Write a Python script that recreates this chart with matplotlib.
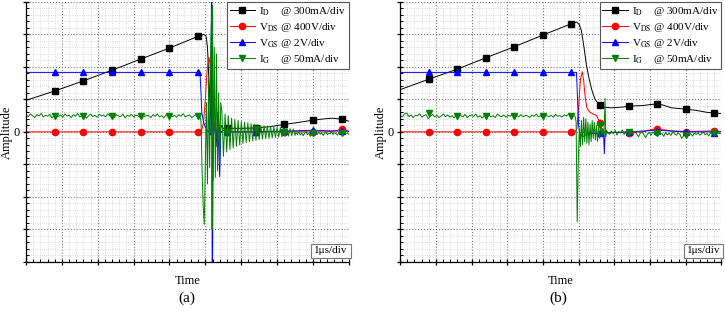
import numpy as np
import matplotlib.pyplot as plt
from matplotlib.ticker import MultipleLocator

plt.rcParams['font.family'] = ['Liberation Serif', 'DejaVu Serif']
plt.rcParams['mathtext.fontset'] = 'stix'

# time axis in divisions (1 us/div), amplitude in divisions
marker_x = [0.8, 1.6, 2.4, 3.2, 4.0, 4.8, 5.6, 6.4, 7.2, 8.0, 8.8]

labels = ['I$_{\\rm D}$    @ 300mA/div',
          'V$_{\\rm DS}$ @ 400V/div',
          'V$_{\\rm GS}$ @ 2V/div',
          'I$_{\\rm G}$    @ 50mA/div']
colors = ['#000000', '#ff0000', '#0000ff', '#008000']
markers = ['s', 'o', '^', 'v']

# ---------------- panel (a) ----------------
id_a_x = [0, 0.8, 1.6, 2.4, 3.2, 4.0, 4.8, 4.95, 5.02, 5.06, 5.1, 5.15, 5.2, 5.25,
          5.3, 5.35, 5.4, 5.45, 5.5, 5.6, 5.8, 6.0, 6.4, 6.8, 7.2, 7.6, 8.0, 8.4,
          8.55, 8.8, 9.0]
id_a_y = [0.97, 1.26, 1.57, 1.9, 2.24, 2.58, 2.94, 3.0, 2.95, 2.6, 1.6, 0.5, 0.2, 0.95,
          -0.45, 0.6, -0.1, 0.2, 0.1, 0.12, 0.11, 0.11, 0.12, 0.16, 0.23, 0.29, 0.36, 0.41,
          0.42, 0.39, 0.33]
id_a_my = [1.26, 1.57, 1.9, 2.24, 2.58, 2.94, 0.12, 0.12, 0.23, 0.36, 0.39]

vds_a_x = [0, 4.85, 4.9, 4.95, 5.0, 5.05, 5.1, 5.13, 5.16, 5.2, 5.25, 5.3, 5.35, 5.4,
           5.5, 5.6, 6.4, 7.2, 8.0, 8.4, 8.6, 8.8, 9.0]
vds_a_y = [0, 0, 0.05, 0.3, 1.0, 1.9, 2.3, 2.1, 0.8, -0.3, 0.3, -0.2, 0.15, -0.05,
           0.05, 0.0, 0.0, 0.01, 0.0, 0.0, 0.03, 0.08, 0.02]
vds_a_my = [0, 0, 0, 0, 0, 0, 0, 0, 0.01, 0, 0.08]

vgs_a_x = [0, 4.85, 4.88, 4.9, 4.95, 5.0, 5.05, 5.1, 5.15, 5.17, 5.18, 5.19, 5.2,
           5.22, 5.3, 5.35, 5.4, 5.43, 5.5, 5.6, 6.4, 7.2, 8.0, 8.8, 9.0]
vgs_a_y = [1.83, 1.83, 1.2, 0.6, 0.3, 0.15, 0.05, 0.0, -0.1, 4.0, 4.0, -4.0, -4.0,
           0.3, -0.2, 0.2, -1.38, 0.0, 0.05, 0.0, 0.0, 0.02, 0.05, 0.02, 0.02]
vgs_a_my = [1.83, 1.83, 1.83, 1.83, 1.83, 1.83, 0.0, 0.0, 0.02, 0.05, 0.02]

ig_a_pre = [0.52, 0.47, 0.55, 0.50, 0.44, 0.53, 0.49, 0.57, 0.46, 0.51,
            0.48, 0.54, 0.43, 0.50, 0.56, 0.47, 0.52, 0.45, 0.55, 0.49,
            0.51, 0.44, 0.53, 0.48, 0.57, 0.46, 0.50, 0.53, 0.42, 0.49,
            0.55, 0.47, 0.51, 0.45, 0.54, 0.49, 0.52, 0.46, 0.56, 0.48,
            0.50, 0.44, 0.53, 0.49, 0.47, 0.55, 0.43, 0.51, 0.48, 0.54,
            0.46, 0.52, 0.49, 0.45, 0.56, 0.47, 0.51, 0.50, 0.44, 0.53,
            0.48, 0.55, 0.46, 0.50, 0.43, 0.52, 0.49, 0.54, 0.47, 0.51,
            0.45, 0.53, 0.48, 0.56, 0.46, 0.50, 0.52, 0.44, 0.49, 0.53,
            0.47]
ig_a_sw_x = [4.85, 4.88, 4.91, 4.94, 4.97, 5.0, 5.03, 5.06, 5.09, 5.12, 5.15, 5.18,
             5.19, 5.2, 5.22, 5.25, 5.28, 5.31, 5.34, 5.37, 5.4, 5.43]
ig_a_sw_y = [0.48, 0.3, -1.2, -2.3, -2.85, -0.9, 0.9, -1.6, 1.6, -1.1, 2.6, 3.8,
             -3.0, 3.9, -1.5, 2.6, -1.4, 2.4, -1.2, 1.2, -1.0, 0.9]
ig_a_osc = [0.65, -0.75, 0.55, -0.62, 0.5, -0.55, 0.42, -0.5, 0.38, -0.45,
            0.35, -0.4, 0.32, -0.36, 0.3, -0.33, 0.28, -0.3, 0.25, -0.28,
            0.24, -0.26, 0.22, -0.24, 0.2, -0.22, 0.19, -0.21, 0.18, -0.2,
            0.16, -0.18, 0.15, -0.17, 0.14, -0.16, 0.13, -0.15, 0.12, -0.14,
            0.11, -0.13, 0.1, -0.12, 0.09, -0.11]
ig_a_tail = [-0.02, -0.08, 0.0, -0.1, -0.03, -0.12, -0.05, 0.01, -0.09, -0.04,
             -0.14, -0.06, -0.02, -0.1, -0.04, -0.08, 0.0, -0.07, -0.03, -0.11,
             -0.05, -0.01, -0.09, -0.04, -0.06, 0.0, -0.08, -0.03, -0.05, -0.1,
             -0.02, -0.06, -0.04, -0.09, -0.01, -0.05, -0.03, -0.07]
ig_a_my = [0.49, 0.49, 0.49, 0.49, 0.49, 0.49, 0.0, 0.1, 0.0, -0.05, -0.02]

# ---------------- panel (b) ----------------
id_b_x = [0, 0.8, 1.6, 2.4, 3.2, 4.0, 4.8, 4.94, 5.02, 5.08, 5.15, 5.22, 5.3, 5.38,
          5.46, 5.55, 5.6, 5.7, 5.9, 6.2, 6.4, 6.8, 7.0, 7.2, 7.35, 7.6, 8.0, 8.3,
          8.6, 8.8, 9.0]
id_b_y = [1.3, 1.62, 1.93, 2.28, 2.62, 2.98, 3.33, 3.38, 3.3, 3.1, 2.6, 2.05, 1.6, 1.25,
          1.0, 0.87, 0.83, 0.76, 0.74, 0.76, 0.79, 0.81, 0.84, 0.86, 0.83, 0.74, 0.7, 0.66,
          0.6, 0.58, 0.56]
id_b_my = [1.62, 1.93, 2.28, 2.62, 2.98, 3.33, 0.83, 0.79, 0.86, 0.7, 0.58]

vds_b_x = [0, 4.9, 4.95, 5.0, 5.05, 5.1, 5.14, 5.18, 5.23, 5.3, 5.4, 5.5, 5.55, 5.6,
           5.65, 5.72, 5.8, 6.4, 6.8, 7.0, 7.2, 7.4, 7.6, 8.0, 8.8, 9.0]
vds_b_y = [0, 0, 0.1, 0.8, 1.6, 1.85, 1.6, 1.1, 0.75, 0.62, 0.55, 0.5, 0.4, 0.26,
           0.1, 0.02, -0.02, -0.02, 0.0, 0.06, 0.1, 0.06, 0.03, 0.01, 0.03, 0.01]
vds_b_my = [0, 0, 0, 0, 0, 0, 0.26, -0.02, 0.1, 0.01, 0.03]

vgs_b_x = [0, 4.94, 4.97, 5.0, 5.03, 5.08, 5.12, 5.18, 5.3, 5.6, 5.7, 5.72, 5.74,
           5.76, 5.8, 6.4, 7.2, 8.0, 9.0]
vgs_b_y = [1.83, 1.83, 1.0, 0.2, -0.05, -0.12, -0.15, -0.1, -0.05, -0.05, -0.05,
           -0.67, -0.1, 0.05, -0.03, 0.0, 0.05, 0.0, 0.0]
vgs_b_my = [1.83, 1.83, 1.83, 1.83, 1.83, 1.83, -0.05, 0.0, 0.03, 0.0, -0.02]

ig_b_pre = [0.50, 0.46, 0.55, 0.58, 0.47, 0.52, 0.44, 0.51, 0.49, 0.56,
            0.45, 0.50, 0.53, 0.41, 0.48, 0.54, 0.46, 0.51, 0.44, 0.49,
            0.55, 0.47, 0.52, 0.45, 0.50, 0.43, 0.53, 0.48, 0.51, 0.46,
            0.54, 0.44, 0.49, 0.52, 0.47, 0.55, 0.45, 0.50, 0.42, 0.51,
            0.48, 0.53, 0.46, 0.50, 0.44, 0.55, 0.49, 0.47, 0.52, 0.45,
            0.51, 0.48, 0.54, 0.43, 0.50, 0.47, 0.53, 0.46, 0.51, 0.49,
            0.44, 0.52, 0.48, 0.55, 0.46, 0.50, 0.43, 0.53, 0.49, 0.47,
            0.51, 0.45, 0.54, 0.48, 0.50, 0.46, 0.52, 0.49, 0.55, 0.47,
            0.51, 0.48]
ig_b_sw_x = [4.93, 4.96, 4.99, 5.02, 5.05, 5.08, 5.11, 5.14, 5.17, 5.2, 5.23, 5.26,
             5.29, 5.32, 5.35, 5.38, 5.41, 5.44, 5.47, 5.5, 5.53, 5.56, 5.59, 5.62,
             5.65, 5.68, 5.71, 5.74, 5.76, 5.78]
ig_b_sw_y = [0.3, -2.77, -0.9, 0.1, -0.45, 0.35, -0.4, 0.45, -0.3, 0.4, -0.35, 0.3,
             -0.4, 0.25, -0.3, 0.35, -0.2, 0.3, -0.25, 0.2, -0.3, 0.15, -0.2, 0.25,
             -0.15, 0.1, -0.1, 1.03, -0.15, 0.05]
ig_b_tail = [-0.02, -0.08, 0.03, -0.06, 0.05, -0.1, 0.02, -0.04, 0.06, -0.08,
             0.0, -0.12, 0.03, -0.05, -0.1, 0.02, -0.07, -0.15, -0.04, 0.01,
             -0.09, -0.18, -0.06, -0.02, -0.1, 0.0, -0.07, -0.12, -0.03, -0.08,
             -0.05, -0.14, -0.02, -0.09, -0.04, -0.11, 0.0, -0.06, -0.1, -0.03,
             -0.08, -0.2, -0.12, -0.05, -0.09, -0.02, -0.07, -0.13, -0.04, -0.08,
             -0.03, -0.1, -0.06, -0.01, -0.09, -0.05, -0.12, -0.03, -0.07, -0.04,
             -0.1, -0.02, -0.06, -0.04]
ig_b_my = [0.58, 0.49, 0.49, 0.49, 0.49, 0.49, 0.2, 0.0, -0.03, -0.1, -0.05]

# sampled segments of the gate current (time grid of the scope samples)
ig_a_x = np.concatenate([np.linspace(0, 4.8, len(ig_a_pre)), ig_a_sw_x,
                         np.linspace(5.46, 7.5, len(ig_a_osc)),
                         np.linspace(7.53, 9.0, len(ig_a_tail))])
ig_a_y = np.concatenate([ig_a_pre, ig_a_sw_y, ig_a_osc, ig_a_tail])
ig_b_x = np.concatenate([np.linspace(0, 4.9, len(ig_b_pre)), ig_b_sw_x,
                         np.linspace(5.82, 9.0, len(ig_b_tail))])
ig_b_y = np.concatenate([ig_b_pre, ig_b_sw_y, ig_b_tail])


def draw_panel(ax, traces):
    handles = []
    for (x, y, my), c, m in zip(traces, colors, markers):
        ln, = ax.plot(x, y, color=c, lw=0.7)
        mk, = ax.plot(marker_x, my, linestyle='none', marker=m, color=c,
                      markersize=4.5)
        handles.append((ln, mk))
    ax.set_xlim(0, 9)
    ax.set_ylim(-4, 4)
    ax.xaxis.set_major_locator(MultipleLocator(1))
    ax.xaxis.set_minor_locator(MultipleLocator(0.2))
    ax.yaxis.set_major_locator(MultipleLocator(1))
    ax.yaxis.set_minor_locator(MultipleLocator(0.2))
    ax.set_xticklabels([])
    ax.yaxis.set_major_formatter(
        plt.FuncFormatter(lambda v, p: '0' if abs(v) < 1e-9 else ''))
    ax.grid(which='major', linestyle=':', color='#777777', lw=0.8)
    ax.grid(which='minor', linestyle=':', color='#d0d0d0', lw=0.6)
    ax.set_axisbelow(True)
    for s in ['top', 'right']:
        ax.spines[s].set_visible(False)
    for s in ['left', 'bottom']:
        ax.spines[s].set_linewidth(0.9)
    ax.tick_params(which='major', direction='inout', length=5, width=0.9,
                   labelsize=9, pad=2)
    ax.tick_params(which='minor', direction='in', length=2.5, width=0.7)
    ax.set_ylabel('Amplitude', fontsize=9)
    ax.yaxis.set_label_coords(-0.04, 0.5)
    ax.set_xlabel('Time', fontsize=9, labelpad=5)
    leg = ax.legend(handles, labels, loc='upper right', bbox_to_anchor=(1.0, 1.0),
                    borderaxespad=0, fontsize=8, frameon=True, fancybox=False,
                    edgecolor='#555555', framealpha=1, handlelength=2.3,
                    handletextpad=0.35, labelspacing=0.28, borderpad=0.25)
    leg.get_frame().set_linewidth(0.8)
    ax.text(0.997, 0.025, '1\u03bcs/div', transform=ax.transAxes, ha='right',
            va='bottom', fontsize=8,
            bbox=dict(boxstyle='square,pad=0.25', fc='white', ec='#777777', lw=0.8))


fig = plt.figure(figsize=(7.25, 3.11), dpi=100)
ax_a = fig.add_axes([0.036, 0.158, 0.445, 0.836])
ax_b = fig.add_axes([0.552, 0.158, 0.443, 0.836])

draw_panel(ax_a, [(id_a_x, id_a_y, id_a_my), (vds_a_x, vds_a_y, vds_a_my),
                  (vgs_a_x, vgs_a_y, vgs_a_my), (ig_a_x, ig_a_y, ig_a_my)])
draw_panel(ax_b, [(id_b_x, id_b_y, id_b_my), (vds_b_x, vds_b_y, vds_b_my),
                  (vgs_b_x, vgs_b_y, vgs_b_my), (ig_b_x, ig_b_y, ig_b_my)])

fig.text(0.258, 0.042, '(a)', ha='center', va='center', fontsize=11)
fig.text(0.770, 0.042, '(b)', ha='center', va='center', fontsize=11)

fig.savefig('out.png', dpi=100)
